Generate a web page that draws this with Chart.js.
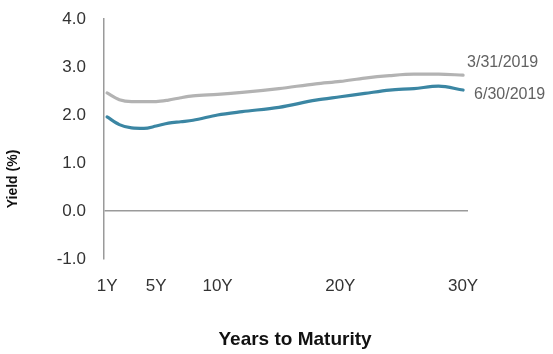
<!DOCTYPE html>
<html>
<head>
<meta charset="utf-8">
<script src="https://cdn.jsdelivr.net/npm/chart.js@4.4.1/dist/chart.umd.min.js"></script>
<style>
  html, body { margin: 0; padding: 0; background: #ffffff; }
  #wrap { width: 553px; height: 354px; position: relative; }
</style>
</head>
<body>
<div id="wrap"><canvas id="curve" width="553" height="354"></canvas></div>
<script>
// Treasury yield curve, maturities in years
const maturities = [1, 2, 3, 4, 5, 6, 7, 8, 10, 12, 15, 18, 20, 22, 24, 26, 28, 30];
const yieldsMar2019 = [2.46, 2.32, 2.28, 2.28, 2.28, 2.31, 2.36, 2.40, 2.43, 2.47, 2.55, 2.65, 2.70, 2.77, 2.82, 2.85, 2.85, 2.83];
const yieldsJun2019 = [1.96, 1.80, 1.73, 1.72, 1.77, 1.83, 1.86, 1.89, 2.00, 2.07, 2.16, 2.31, 2.38, 2.45, 2.52, 2.55, 2.60, 2.52];
const seriesNames = ['3/31/2019', '6/30/2019'];
const xTickValues = [1, 5, 10, 20, 30];
const yTickValues = [-1, 0, 1, 2, 3, 4];

const GRAY = '#b3b3b3';
const BLUE = '#3b86a3';

const toPoints = (ys) => maturities.map((m, i) => ({ x: m, y: ys[i] }));

// Series names placed just past the end of each curve, plus the axis titles
const annotations = {
  id: 'annotations',
  afterDatasetsDraw(chart) {
    const { ctx, chartArea } = chart;
    ctx.save();
    ctx.fillStyle = '#626262';
    ctx.font = '16px "Liberation Sans", Arial, sans-serif';
    ctx.textBaseline = 'middle';
    ctx.textAlign = 'left';
    const offsets = [{ dx: 4, dy: -13 }, { dx: 11, dy: 5 }];
    chart.data.datasets.forEach((ds, i) => {
      const meta = chart.getDatasetMeta(i);
      const last = meta.data[meta.data.length - 1];
      ctx.fillText(ds.label, last.x + offsets[i].dx, last.y + offsets[i].dy);
    });

    ctx.fillStyle = '#111111';
    ctx.font = 'bold 19px "Liberation Sans", Arial, sans-serif';
    ctx.textAlign = 'center';
    ctx.fillText('Years to Maturity', (chartArea.left + chartArea.right) / 2 + 9, 340);

    ctx.translate(13, 179);
    ctx.rotate(-Math.PI / 2);
    ctx.font = 'bold 14px "Liberation Sans", Arial, sans-serif';
    ctx.fillText('Yield (%)', 0, 0);
    ctx.restore();
  }
};

new Chart(document.getElementById('curve'), {
  type: 'line',
  data: {
    datasets: [
      { label: seriesNames[0], data: toPoints(yieldsMar2019), borderColor: GRAY, borderWidth: 3.2 },
      { label: seriesNames[1], data: toPoints(yieldsJun2019), borderColor: BLUE, borderWidth: 3.2 }
    ]
  },
  options: {
    responsive: false,
    animation: false,
    events: [],
    layout: { padding: { left: 0, right: 85, top: 19, bottom: 0 } },
    elements: {
      point: { radius: 0 },
      line: { tension: 0.4, cubicInterpolationMode: 'monotone', borderCapStyle: 'round' }
    },
    plugins: {
      legend: { display: false },
      tooltip: { enabled: false }
    },
    scales: {
      x: {
        type: 'linear',
        min: 0.75,
        max: 30.4,
        afterBuildTicks: (scale) => { scale.ticks = xTickValues.map(v => ({ value: v })); },
        afterFit: (scale) => { scale.height = 95; },
        grid: { display: false, drawTicks: false },
        border: { display: false },
        ticks: {
          autoSkip: false,
          maxRotation: 0,
          padding: 17,
          color: '#333333',
          font: { family: '"Liberation Sans", Arial, sans-serif', size: 17 },
          callback: (v) => v + 'Y'
        }
      },
      y: {
        min: -1,
        max: 4,
        afterBuildTicks: (scale) => { scale.ticks = yTickValues.map(v => ({ value: v })); },
        afterFit: (scale) => {
          scale.width = 104;
          // keep the plot top pinned by the layout padding, not the label gap
          scale.paddingTop = 8;
          scale.paddingBottom = 8;
        },
        grid: {
          drawTicks: false,
          color: (c) => c.tick && c.tick.value === 0 ? '#9a9a9a' : 'rgba(0,0,0,0)',
          lineWidth: 1.5
        },
        border: { display: true, color: '#9a9a9a', width: 1.5 },
        ticks: {
          padding: 18,
          color: '#333333',
          font: { family: '"Liberation Sans", Arial, sans-serif', size: 17 },
          callback: (v) => v.toFixed(1)
        }
      }
    }
  },
  plugins: [annotations]
});
</script>
</body>
</html>
